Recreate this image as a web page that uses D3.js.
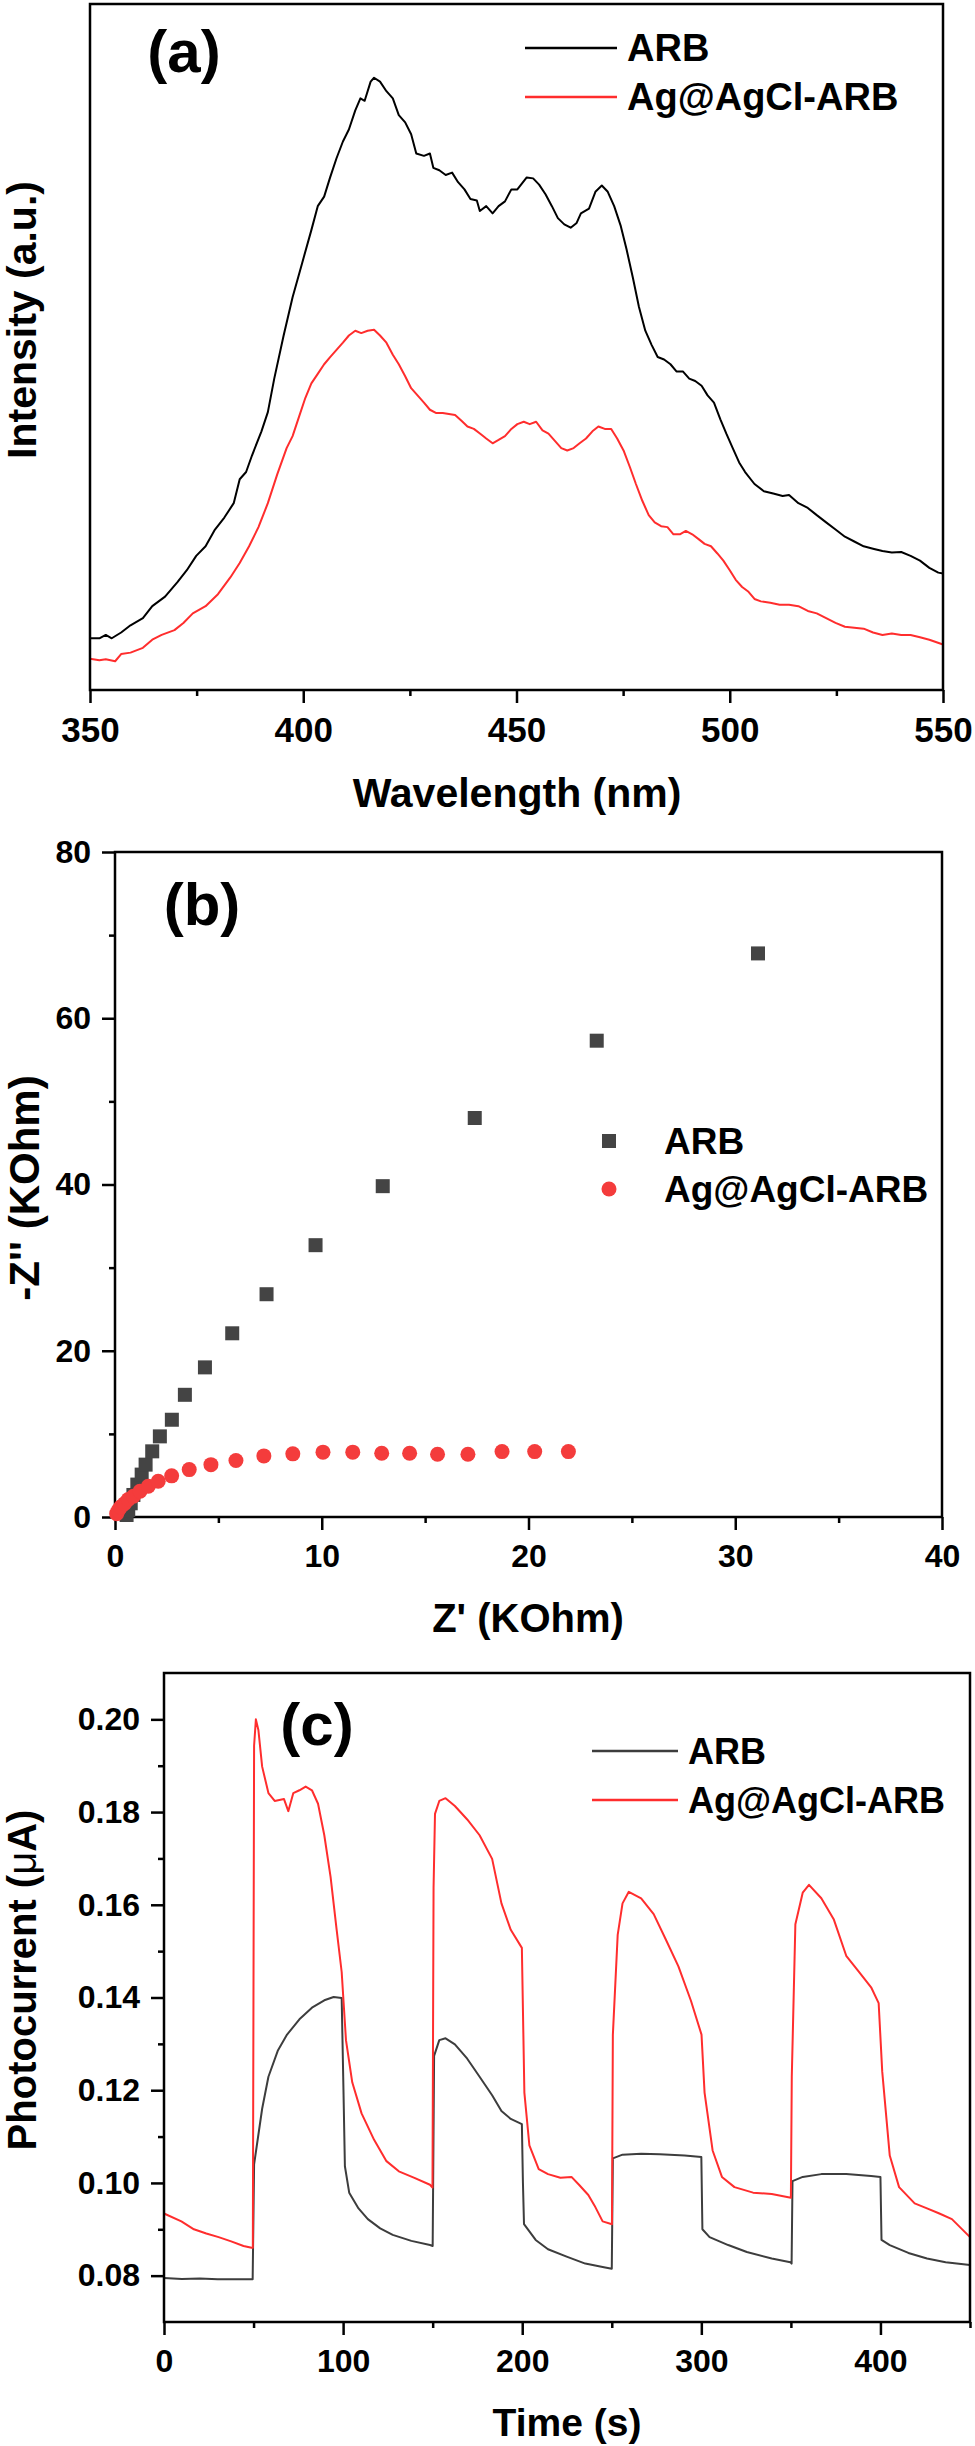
<!DOCTYPE html>
<html>
<head>
<meta charset="utf-8">
<script src="https://cdn.jsdelivr.net/npm/d3@7"></script>
<style>
  body { margin: 0; background: #fff; }
  svg { display: block; background: #fff; }
  text { font-family: 'Liberation Sans', Arial, sans-serif; font-weight: bold; fill: #000; }
</style>
</head>
<body>
<script>
'use strict';

// (a) PL spectra, intensity in arbitrary units
var arbWl = [350,352.2,353.7,355.1,357.3,359.5,362.4,364.6,367.6,370.5,372.7,374.9,377.1,379.3,381.5,383.7,385.1,386.6,388.0,390.2,391.7,393.2,395.4,397.5,399.7,401.9,403.4,404.9,406.3,407.8,409.3,410.7,412.2,413.4,414.4,415.8,416.6,418.0,419.5,421.0,422.4,423.9,425.3,426.5,428.3,429.7,430.5,431.9,433.4,434.9,436.3,437.8,439.2,440.7,441.4,442.9,444.4,445.8,447.3,448.8,450.2,452.4,453.9,455.3,456.8,458.3,459.7,461.2,462.7,464.1,465.1,467.0,468.5,470.0,471.4,472.9,474.4,475.8,477.3,478.7,480.2,481.7,483.1,484.6,486.1,487.5,489.0,490.5,491.9,493.4,494.8,496.3,497.8,499.2,500.7,502.2,503.6,505.8,508.0,510.2,512.4,513.9,516.1,518.3,520.4,522.6,524.8,527.0,529.2,531.4,533.6,535.8,538.0,540.2,542.4,544.6,546.8,548.9,550];
var arbInt = [108,108,115,108,120,135,150,175,195,225,250,280,300,335,360,390,440,455,490,540,580,650,740,820,890,960,1010,1030,1070,1110,1145,1170,1210,1235,1230,1270,1278,1270,1250,1235,1200,1185,1160,1120,1115,1120,1090,1085,1075,1080,1060,1045,1025,1022,1000,1010,995,1010,1020,1045,1045,1070,1068,1055,1035,1010,985,972,965,975,995,1005,1040,1053,1040,1010,970,920,860,800,750,720,695,690,680,665,665,650,645,635,615,600,565,535,505,475,455,430,415,410,405,407,390,380,365,350,335,320,310,300,295,290,287,288,280,270,255,245,243];
var agWl = [350,352.2,353.7,355.9,357.3,359.5,362.4,364.6,366.8,369.8,371.9,374.1,377.1,380.0,382.9,385.1,387.3,389.5,391.7,393.9,396.1,397.5,399.0,400.5,401.9,403.4,404.9,406.3,407.8,409.3,410.7,412.2,413.6,415.1,416.6,418.0,419.5,421.0,422.4,423.9,425.3,426.8,428.3,429.7,431.2,432.7,435.6,437.1,438.5,440.0,441.5,442.9,444.4,445.8,447.3,448.8,450.2,451.7,453.1,454.6,456.1,457.5,459.0,460.5,461.9,463.4,464.8,466.3,467.8,469.2,470.7,472.2,473.6,475.1,476.6,478.0,479.5,481.0,482.4,483.9,485.4,486.8,488.3,489.7,491.2,492.7,494.1,495.6,497.1,498.5,500.0,501.4,502.9,504.4,505.8,507.3,509.5,511.7,513.9,516.1,518.3,520.4,522.6,524.8,527.0,529.2,531.4,533.6,535.8,538.0,540.2,542.4,544.6,546.8,550];
var agInt = [65,62,64,60,75,78,88,105,115,125,140,160,175,200,235,265,300,340,390,450,505,530,570,610,640,660,680,695,710,725,740,750,745,750,752,740,725,700,680,655,630,615,600,585,578,578,574,562,550,545,535,525,515,522,530,545,555,560,555,560,542,535,520,505,500,505,515,525,540,550,545,545,525,500,465,430,395,365,350,342,340,325,325,332,325,315,305,300,285,270,250,230,215,205,190,185,182,178,178,175,165,160,150,140,132,130,128,120,115,118,115,115,110,105,95];

// (b) Nyquist plot, KOhm
var arbZre = [0.56,0.64,0.76,0.89,1.08,1.29,1.48,1.80,2.17,2.75,3.38,4.35,5.67,7.33,9.7,12.95,17.4,23.3,31.1];
var arbZim = [0.24,0.84,1.65,2.65,3.9,5.1,6.3,7.9,9.7,11.7,14.7,18.0,22.1,26.8,32.7,39.8,48.0,57.3,67.8];
var agZre = [0.08,0.16,0.27,0.45,0.64,0.89,1.21,1.61,2.09,2.74,3.59,4.64,5.85,7.2,8.6,10.06,11.5,12.9,14.25,15.6,17.07,18.72,20.3,21.93];
var agZim = [0.4,0.8,1.2,1.6,2.1,2.5,3.1,3.7,4.3,4.95,5.7,6.3,6.8,7.35,7.6,7.8,7.8,7.67,7.67,7.55,7.55,7.87,7.87,7.87];

// (c) photocurrent, µA vs time (s)
var arbT = [0,10,20,30,40,49.5,50.3,54.8,58.3,63.5,68.7,75.6,82.6,89.5,94.7,99.2,100.2,101,103.4,108.6,113.8,120.7,127.7,138.1,148.5,150,150.8,153.7,157.2,162.4,169.3,176.2,183.2,188.4,193.6,199.8,200.4,201,207.5,214.4,224.8,235.2,245.6,250,250.6,256,266.4,276.8,290.7,300,300.6,304.6,315,325.4,339.3,349.7,350.4,350.9,356.6,367,380.9,394.8,400,400.6,405.2,415.6,426,436.4,450];
var arbI = [0.0795,0.0793,0.0794,0.0792,0.0792,0.0792,0.1040,0.116,0.1229,0.1285,0.132,0.1353,0.1378,0.1394,0.1401,0.1399,0.1200,0.1036,0.0979,0.0945,0.0922,0.0902,0.0888,0.0875,0.0866,0.0864,0.1274,0.1308,0.1312,0.1299,0.1268,0.1229,0.1189,0.1155,0.1138,0.1127,0.1000,0.0911,0.0877,0.0857,0.0841,0.0826,0.0818,0.0815,0.1053,0.1061,0.1063,0.1062,0.1059,0.1056,0.0900,0.0883,0.0866,0.0851,0.0837,0.0829,0.0826,0.1004,0.1013,0.1019,0.1019,0.1015,0.1013,0.0877,0.0866,0.0849,0.0837,0.0829,0.0823];
var agT = [0,9.7,16.7,23.6,30.5,37.5,44.4,48.9,49.6,50.3,51.3,52.7,54.8,58.3,61.8,67,69.4,72.2,75.6,79.1,82.6,86,89.5,93,96.4,99.2,101.6,105.1,110.3,117.3,124.2,131.1,139.8,148.5,149.9,150.5,151.3,153.7,157.2,162.4,169.3,176.2,183.2,188.4,193.6,199.8,201.2,204,209.2,214.4,221.3,227.5,231.7,236.9,240.4,244.9,250.1,250.6,253.3,256,259.5,266.4,273.4,280.3,287.2,294.2,300.1,301.8,306.3,311.5,318.5,328.9,339.3,350,350.5,352.5,356.6,360.1,367,373.9,380.9,387.9,394.8,399,401,405.2,410.4,419.1,426,432.9,439.9,450];
var agI = [0.0934,0.0917,0.0900,0.0891,0.0883,0.0874,0.0864,0.0860,0.0860,0.1943,0.2000,0.1977,0.1898,0.1841,0.1824,0.1828,0.1802,0.1841,0.1847,0.1855,0.1847,0.1818,0.1750,0.166,0.1546,0.1455,0.1308,0.1217,0.1150,0.1093,0.1047,0.1025,0.1011,0.0996,0.0990,0.1637,0.1796,0.1824,0.1830,0.1813,0.1784,0.1750,0.1699,0.1603,0.1546,0.1507,0.1195,0.1081,0.1030,0.1019,0.1011,0.1013,0.0996,0.0974,0.0951,0.0917,0.0911,0.1319,0.1535,0.1603,0.1628,0.1614,0.1580,0.1524,0.1467,0.1393,0.1320,0.1195,0.1070,0.1013,0.0991,0.0979,0.0976,0.0968,0.1229,0.1558,0.1626,0.1643,0.1614,0.1569,0.1490,0.1456,0.1422,0.1388,0.1240,0.1059,0.0991,0.0956,0.0945,0.0934,0.0922,0.0883];

var seriesNames = ['ARB', 'Ag@AgCl-ARB'];
var red = '#ff2d2d',
    dotRed = '#f43c3c',
    gray = '#3d3d3d';

var svg = d3.select('body').append('svg')
    .attr('width', 975)
    .attr('height', 2446);

function axis(g, ax, size, fontSize) {
  g.call(ax.tickSize(size).tickSizeOuter(0))
      .attr('font-size', fontSize)
      .attr('font-family', null);
  g.select('.domain').remove();
  g.selectAll('.tick line').attr('stroke', '#000').attr('stroke-width', 2.5);
  g.selectAll('.tick text').attr('fill', '#000');
}

function frame(x, y, o) {
  var x0 = x.range()[0], x1 = x.range()[1],
      y0 = y.range()[0], y1 = y.range()[1];

  axis(svg.append('g').attr('transform', 'translate(0,' + y0 + ')'),
      d3.axisBottom(x).tickValues(o.xMajor).tickPadding(14).tickFormat(o.xFmt || d3.format('d')), 13, o.tickFont);
  axis(svg.append('g').attr('transform', 'translate(0,' + y0 + ')'),
      d3.axisBottom(x).tickValues(o.xMinor).tickFormat(''), 6, o.tickFont);

  if (o.yMajor) {
    axis(svg.append('g').attr('transform', 'translate(' + x0 + ',0)'),
        d3.axisLeft(y).tickValues(o.yMajor).tickPadding(11).tickFormat(o.yFmt), 13, o.tickFont);
    axis(svg.append('g').attr('transform', 'translate(' + x0 + ',0)'),
        d3.axisLeft(y).tickValues(o.yMinor).tickFormat(''), 6, o.tickFont);
  }

  svg.append('rect')
      .attr('x', x0)
      .attr('y', y1)
      .attr('width', x1 - x0)
      .attr('height', y0 - y1)
      .attr('fill', 'none')
      .attr('stroke', '#000')
      .attr('stroke-width', 2.5);
}

function title(txt, x, y, size, rotate) {
  return svg.append('text')
      .attr('text-anchor', 'middle')
      .attr('font-size', size)
      .attr('transform', 'translate(' + x + ',' + y + ')' + (rotate ? ' rotate(-90)' : ''))
      .text(txt);
}

function curve(x, y, xs, ys, color) {
  svg.append('path')
      .datum(d3.zip(xs, ys))
      .attr('fill', 'none')
      .attr('stroke', color)
      .attr('stroke-width', 2)
      .attr('stroke-linejoin', 'round')
      .attr('d', d3.line()
        .x(function(d) { return x(d[0]); })
        .y(function(d) { return y(d[1]); }));
}

function lineLegend(x0, x1, tx, ys, colors, size) {
  seriesNames.forEach(function(name, i) {
    svg.append('line')
        .attr('x1', x0).attr('x2', x1)
        .attr('y1', ys[i]).attr('y2', ys[i])
        .attr('stroke', colors[i])
        .attr('stroke-width', 2.5);
    svg.append('text')
        .attr('x', tx)
        .attr('y', ys[i] + 13)
        .attr('font-size', size)
        .text(name);
  });
}

{ // (a)
  var xa = d3.scaleLinear().domain([350, 550]).range([90, 943]);
  var ya = d3.scaleLinear().domain([0, 1432]).range([690, 4]);

  curve(xa, ya, arbWl, arbInt, '#000');
  curve(xa, ya, agWl, agInt, red);

  frame(xa, ya, {
    xMajor: [350, 400, 450, 500, 550],
    xMinor: [375, 425, 475, 525],
    tickFont: 35
  });

  title('Wavelength (nm)', 517, 807, 41);
  title('Intensity (a.u.)', 36, 320, 41, true);
  title('(a)', 184, 72, 60);
  lineLegend(525, 617, 627, [48, 97], ['#000', red], 38);
}

{ // (b)
  var xb = d3.scaleLinear().domain([0, 40]).range([115, 942]);
  var yb = d3.scaleLinear().domain([0, 80]).range([1517, 852]);

  frame(xb, yb, {
    xMajor: [0, 10, 20, 30, 40],
    xMinor: [5, 15, 25, 35],
    yMajor: [0, 20, 40, 60, 80],
    yMinor: [10, 30, 50, 70],
    yFmt: d3.format('d'),
    tickFont: 32
  });

  svg.append('g').selectAll('rect')
      .data(d3.zip(arbZre, arbZim))
      .join('rect')
      .attr('x', function(d) { return xb(d[0]) - 7; })
      .attr('y', function(d) { return yb(d[1]) - 7; })
      .attr('width', 14)
      .attr('height', 14)
      .attr('fill', '#444');

  svg.append('g').selectAll('circle')
      .data(d3.zip(agZre, agZim))
      .join('circle')
      .attr('cx', function(d) { return xb(d[0]); })
      .attr('cy', function(d) { return yb(d[1]); })
      .attr('r', 7.5)
      .attr('fill', dotRed);

  title('Z\' (KOhm)', 528, 1632, 40);
  title('-Z\'\' (KOhm)', 39, 1188, 42, true);
  title('(b)', 202, 925, 60);

  // legend
  svg.append('rect')
      .attr('x', 602).attr('y', 1134)
      .attr('width', 14).attr('height', 14)
      .attr('fill', '#444');
  svg.append('circle')
      .attr('cx', 609).attr('cy', 1189)
      .attr('r', 7.5)
      .attr('fill', dotRed);
  seriesNames.forEach(function(name, i) {
    svg.append('text')
        .attr('x', 664)
        .attr('y', [1154, 1202][i])
        .attr('font-size', 37)
        .text(name);
  });
}

{ // (c)
  var xc = d3.scaleLinear().domain([0, 450]).range([164, 970]);
  var yc = d3.scaleLinear().domain([0.07, 0.21]).range([2322, 1673]);

  curve(xc, yc, arbT, arbI, gray);
  curve(xc, yc, agT, agI, red);

  frame(xc, yc, {
    xMajor: [0, 100, 200, 300, 400],
    xMinor: [50, 150, 250, 350, 450],
    yMajor: [0.08, 0.10, 0.12, 0.14, 0.16, 0.18, 0.20],
    yMinor: [0.09, 0.11, 0.13, 0.15, 0.17, 0.19],
    yFmt: d3.format('.2f'),
    tickFont: 32
  });

  title('Time (s)', 567, 2436, 39);
  var yt = title('Photocurrent (', 36, 1980, 40, true).text('Photocurrent (');
  yt.append('tspan').attr('font-weight', 'normal').text('\u03bc');
  yt.append('tspan').text('A)');
  title('(c)', 317, 1745, 60);
  lineLegend(592, 678, 688, [1751, 1800], [gray, red], 36);
}
</script>
</body>
</html>
